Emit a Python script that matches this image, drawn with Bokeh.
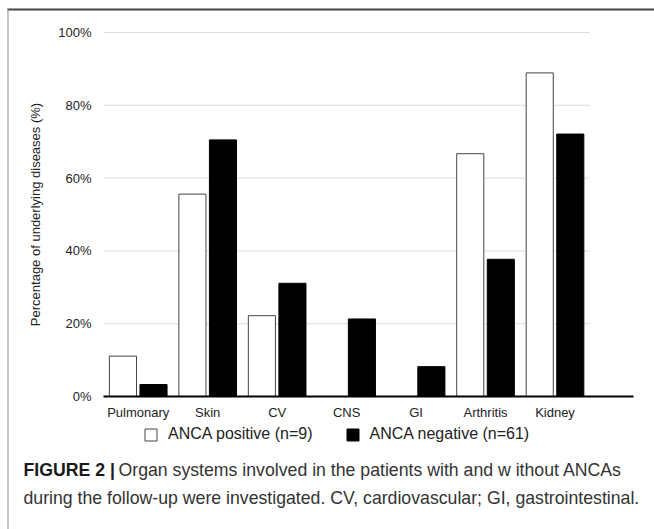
from bokeh.plotting import figure
from bokeh.models import (Range1d, FixedTicker, PrintfTickFormatter, Legend, LegendItem,
                          ColumnDataSource, Label, BoxAnnotation)
from bokeh.transform import dodge
from bokeh.embed import file_html
from bokeh.resources import INLINE

# ---- data ----
categories = ["Pulmonary", "Skin", "CV", "CNS", "GI", "Arthritis", "Kidney"]
anca_positive = [11.1, 55.6, 22.2, 0.0, 0.0, 66.7, 88.9]
anca_negative = [3.3, 70.5, 31.1, 21.3, 8.2, 37.7, 72.1]
y_ticks = [0, 20, 40, 60, 80, 100]
legend_labels = ["ANCA positive (n=9)", "ANCA negative (n=61)"]
caption_bold = "FIGURE 2 |"
caption_line1 = "Organ systems involved in the patients with and w ithout ANCAs"
caption_line2 = "during the follow-up were investigated. CV, cardiovascular; GI, gastrointestinal."

FONT = "Liberation Sans"
W, H = 654, 529
# plot area in page pixels
PX_L, PX_R, PX_T, PX_B = 103, 633, 32, 396
X_SPAN = 7.63                      # x units across the axis line
px_per_x = (PX_R - PX_L) / X_SPAN
px_per_y = (PX_B - PX_T) / 100.0

xc = [i + 0.5 for i in range(len(categories))]
src = ColumnDataSource(dict(x=xc, pos=anca_positive, neg=anca_negative))

p = figure(width=W, height=H, output_backend="svg", toolbar_location=None,
           x_range=Range1d(-PX_L / px_per_x, (W - PX_L) / px_per_x),
           y_range=Range1d(-(H - PX_B) / px_per_y, 100 + PX_T / px_per_y),
           min_border=0)
p.outline_line_color = None
p.xgrid.visible = False
p.ygrid.visible = False

# grid lines (only across the categories)
gv = [t for t in y_ticks if t > 0]
p.segment(x0=[0] * len(gv), x1=[len(categories)] * len(gv), y0=gv, y1=gv,
          line_color="#dcdcdc", line_width=1, level="underlay")

r_pos = p.vbar(x=dodge("x", -0.22, range=p.x_range), top="pos", width=0.39, source=src,
               fill_color="white", line_color="#444444", line_width=1)
r_neg = p.vbar(x=dodge("x", 0.22, range=p.x_range), top="neg", width=0.39, source=src,
               fill_color="black", line_color="black", line_width=1)

# y axis
ya = p.yaxis[0]
ya.fixed_location = 0
ya.bounds = (0, 100)
ya.ticker = FixedTicker(ticks=y_ticks)
ya.formatter = PrintfTickFormatter(format="%d%%")
ya.axis_line_color = None
ya.major_tick_line_color = None
ya.minor_tick_line_color = None
ya.major_label_standoff = 6
ya.major_label_text_font = FONT
ya.major_label_text_font_size = "13px"
ya.major_label_text_color = "#222222"
ya.axis_label = "Percentage of underlying diseases (%)"
ya.axis_label_text_font = FONT
ya.axis_label_text_font_size = "13px"
ya.axis_label_text_font_style = "normal"
ya.axis_label_text_color = "#222222"
ya.axis_label_standoff = 12

# x axis
xa = p.xaxis[0]
xa.fixed_location = 0
xa.bounds = (0, X_SPAN)
xa.ticker = FixedTicker(ticks=xc)
xa.major_label_overrides = {x: c for x, c in zip(xc, categories)}
xa.axis_line_color = "black"
xa.axis_line_width = 2
xa.major_tick_line_color = None
xa.minor_tick_line_color = None
xa.major_label_standoff = 2
xa.major_label_text_font = FONT
xa.major_label_text_font_size = "13px"
xa.major_label_text_color = "#222222"

# legend
legend = Legend(items=[LegendItem(label=legend_labels[0], renderers=[r_pos]),
                       LegendItem(label=legend_labels[1], renderers=[r_neg])],
                orientation="horizontal", location=(143, H - 443),
                glyph_width=15, glyph_height=15, label_standoff=10, spacing=32,
                padding=0, margin=0, border_line_color=None, background_fill_alpha=0,
                label_text_font=FONT, label_text_font_size="16px", label_text_color="#222222")
p.add_layout(legend, "center")

# caption
p.add_layout(Label(x=23, y=H - 469, x_units="screen", y_units="screen", text=caption_bold,
                   text_font=FONT, text_font_style="bold", text_font_size="17.7px",
                   text_color="#1a1a1a", text_baseline="middle"))
p.add_layout(Label(x=118, y=H - 469, x_units="screen", y_units="screen", text=caption_line1,
                   text_font=FONT, text_font_size="17.7px", text_color="#333333",
                   text_baseline="middle"))
p.add_layout(Label(x=23, y=H - 497, x_units="screen", y_units="screen", text=caption_line2,
                   text_font=FONT, text_font_size="17.7px", text_color="#333333",
                   text_baseline="middle"))

# figure border (top and left)
p.add_layout(BoxAnnotation(left=7, right=W, bottom=H - 10, top=H - 8,
                           left_units="screen", right_units="screen",
                           bottom_units="screen", top_units="screen",
                           fill_color="#444444", fill_alpha=1, line_color=None))
p.add_layout(BoxAnnotation(left=7, right=8, bottom=0, top=H - 8,
                           left_units="screen", right_units="screen",
                           bottom_units="screen", top_units="screen",
                           fill_color="#8a8a8a", fill_alpha=1, line_color=None))

open("out.html", "w").write(file_html(p, INLINE))
